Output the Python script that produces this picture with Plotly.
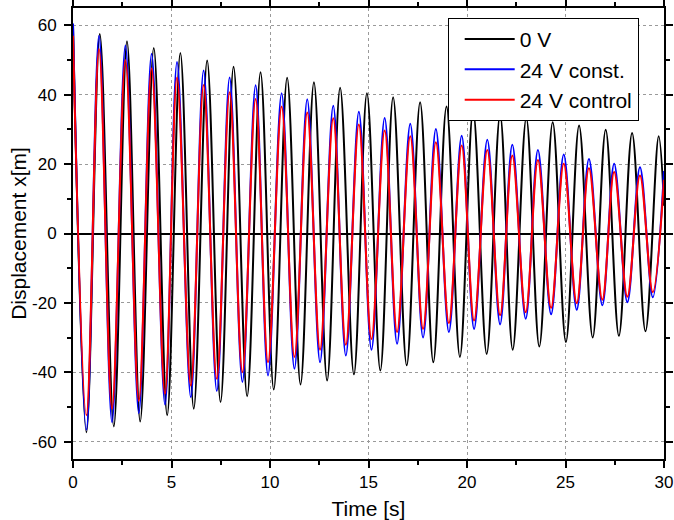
import plotly.graph_objects as go

# Extrema (time in s, displacement in m)
t_0v_peaks = [0, 1.36, 2.74, 4.10, 5.45, 6.81, 8.15, 9.52, 10.87, 12.23, 13.56, 14.92,
              16.25, 17.62, 18.96, 20.31, 21.68, 23.01, 24.35, 25.69, 27.04, 28.38, 29.73]
x_0v_peaks = [60, 57.5, 55.4, 53.5, 52, 49.9, 48.1, 46.5, 44.9, 43.6, 42, 40.4,
              39.3, 37.8, 36.6, 35.4, 34.3, 33.3, 32.1, 31.1, 29.9, 29, 28]
t_0v_troughs = [0.68, 2.07, 3.41, 4.78, 6.13, 7.49, 8.84, 10.19, 11.55, 12.90, 14.26,
                15.60, 16.94, 18.29, 19.64, 21.00, 22.32, 23.67, 25.02, 26.38, 27.71, 29.06]
x_0v_troughs = [-57.3, -55.6, -54.2, -52.4, -50.5, -48.6, -46.9, -45, -43.5, -42.4, -40.6,
                -39.5, -38, -37.1, -35.6, -34.7, -33.5, -32.6, -31.3, -30, -29.5, -28.2]
t_0v_end, x_0v_end = [30], [8]

t_24v_peaks = [0, 1.32, 2.66, 3.99, 5.28, 6.63, 7.95, 9.27, 10.59, 11.89, 13.21, 14.51,
               15.82, 17.12, 18.42, 19.73, 21.03, 22.30, 23.60, 24.91, 26.19, 27.47, 28.78]
t_24v_troughs = [0.68, 1.98, 3.34, 4.67, 5.98, 7.30, 8.60, 9.90, 11.24, 12.54, 13.85, 15.15,
                 16.45, 17.77, 19.08, 20.36, 21.68, 22.98, 24.27, 25.57, 26.87, 28.14, 29.43]
t_24v_end = [30]

x_const_peaks = [60.5, 57, 54.2, 51.8, 49.4, 47, 45, 42.7, 40.4, 38.7, 36.8, 35.1,
                 33.3, 31.6, 30.1, 28.2, 27, 25.6, 24.1, 22.8, 21.5, 20.1, 19.1]
x_const_troughs = [-56.6, -54.4, -51.8, -49.3, -47.2, -45.4, -42.8, -40.9, -39, -37.1, -35.2, -33.5,
                   -31.8, -30, -28.4, -27.5, -26.2, -24.6, -23.3, -22, -20.7, -19.8, -18.4]
x_const_end = [18]

x_ctrl_peaks = [57, 53.2, 50, 47.6, 45, 42.8, 40.7, 38.8, 36.6, 34.9, 33.2, 31.4,
                29.7, 28, 26.3, 25.4, 24.1, 22.5, 21.2, 20.1, 18.8, 17.7, 16.7]
x_ctrl_troughs = [-52.4, -50.5, -48.3, -46.2, -43.8, -41.9, -40, -37.1, -35.6, -33.5, -32.1, -30.4,
                  -28.4, -27.5, -25.8, -25.1, -23.6, -22.7, -21.4, -20.1, -19.1, -18.2, -16.9]
x_ctrl_end = [15.5]

y_ticks = [-60, -40, -20, 0, 20, 40, 60]
y_ticktext = ['-60', '-40', '-20', '0', '20', '40', '60']


def merge(*parts):
    # parts: (times, values) pairs, combined in time order
    pts = sorted(p for t, v in parts for p in zip(t, v))
    return [p[0] for p in pts], [p[1] for p in pts]


series = [
    ('0 V', 'black', merge((t_0v_peaks, x_0v_peaks), (t_0v_troughs, x_0v_troughs),
                           (t_0v_end, x_0v_end))),
    ('24 V const.', '#0000ff', merge((t_24v_peaks, x_const_peaks), (t_24v_troughs, x_const_troughs),
                                     (t_24v_end, x_const_end))),
    ('24 V control', '#ff0000', merge((t_24v_peaks, x_ctrl_peaks), (t_24v_troughs, x_ctrl_troughs),
                                      (t_24v_end, x_ctrl_end))),
]

fig = go.Figure()
for name, color, (t, x) in series:
    fig.add_trace(go.Scatter(x=t, y=x, mode='lines', name=name,
                             line=dict(color=color, width=2, shape='spline', smoothing=1.0)))

FONT = 'Liberation Sans, Arial'
axis_common = dict(showline=True, linecolor='black', linewidth=2, mirror='ticks',
                   ticks='outside', ticklen=7, tickwidth=1.5, tickcolor='black',
                   showgrid=True, gridcolor='#9a9a9a', griddash='dot', gridwidth=1,
                   automargin=False,
                   tickfont=dict(family=FONT, size=17, color='black'),
                   title_font=dict(family=FONT, size=21, color='black'))

fig.update_xaxes(range=[0, 30], dtick=5, tick0=0, zeroline=False, title_text='Time [s]',
                 title_standoff=10,
                 minor=dict(ticks='outside', ticklen=4, tickwidth=1.5, tickcolor='black',
                            dtick=2.5, showgrid=False),
                 **axis_common)
fig.update_yaxes(range=[-65, 65], tickvals=y_ticks, ticktext=y_ticktext,
                 zeroline=True, zerolinecolor='black', zerolinewidth=2,
                 title_text='Displacement x[m]', title_standoff=0, ticklabelstandoff=4,
                 minor=dict(ticks='outside', ticklen=4, tickwidth=1.5, tickcolor='black',
                            dtick=10, tick0=0, showgrid=False),
                 **axis_common)

fig.update_layout(
    width=674, height=520,
    margin=dict(l=73, r=10, t=8, b=61),
    plot_bgcolor='white', paper_bgcolor='white',
    legend=dict(x=0.634, y=0.978, xanchor='left', yanchor='top',
                bgcolor='white', bordercolor='black', borderwidth=1,
                itemwidth=50, indentation=11, tracegroupgap=0,
                font=dict(family=FONT, size=21, color='black')),
)

# the page body has a default 8px margin, drop it so the figure fills the window
fig.write_html('out.html', config={'displayModeBar': False},
               post_script="document.body.style.margin='0px';")
